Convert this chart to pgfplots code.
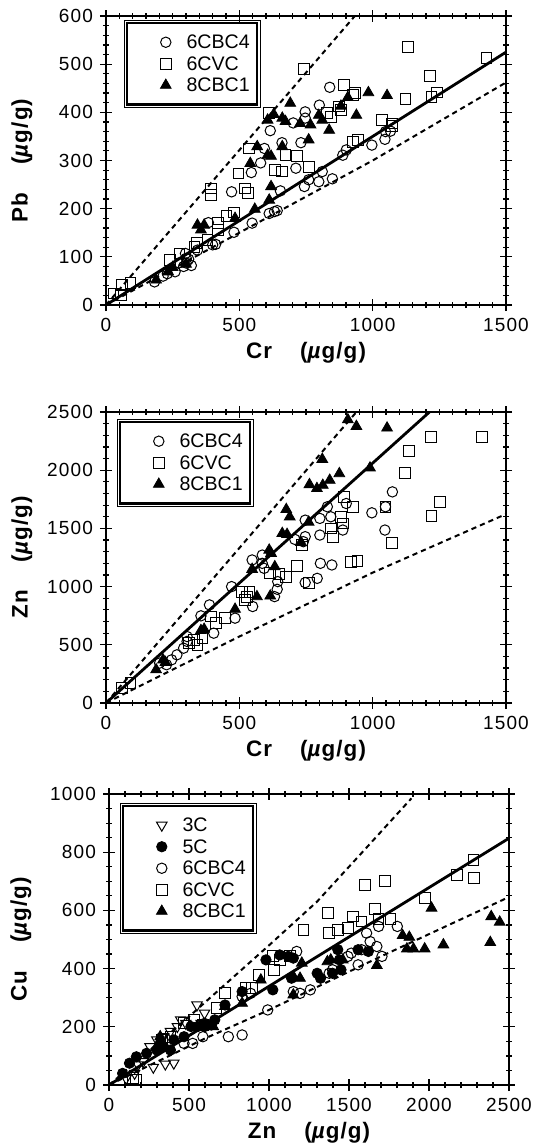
\documentclass[border=0pt]{standalone}
\usepackage{fontspec}
\setmainfont{Liberation Sans}
\usepackage{pgfplots}
\pgfplotsset{compat=1.18}
\pgfplotsset{
  panel/.style={
    scale only axis,
    axis line style={line width=0.6pt},
    tick style={line width=0.6pt, black},
    tick align=center,
    major tick length=6pt,
    minor tick length=3pt,
    /pgf/number format/assume math mode=true,
    /pgf/number format/1000 sep={},
    tick label style={font=\fontsize{9.5}{10}\selectfont\addfontfeature{LetterSpace=6}},
    label style={font=\fontsize{11.2}{12}\selectfont\bfseries\addfontfeature{LetterSpace=5}},
    legend style={draw=none, fill=white, anchor=north west,
      font=\fontsize{9.8}{11}\selectfont,
      inner xsep=2.3pt, inner ysep=4.5pt, row sep=0.85pt,
      nodes={inner sep=1.2pt, text height=7pt, text depth=0.5pt},
      /tikz/every even column/.append style={column sep=4.8pt}},
    legend image code/.code={\path (-16.7pt,0pt) (9pt,0pt); \draw[##1] plot coordinates {(0pt,0pt)};},
    legend cell align=left,
    oc/.style={only marks, mark=o, mark size=2.6pt, mark options={line width=0.5pt, black}},
    sq/.style={only marks, mark=square, mark size=2.7pt, mark options={line width=0.5pt, black}},
    tr/.style={only marks, mark=triangle*, mark size=3.1pt, mark options={black, fill=black}},
    itr/.style={only marks, mark=triangle, mark size=3.0pt, mark options={rotate=180, line width=0.5pt, black}},
    fc/.style={only marks, mark=*, mark size=2.6pt, mark options={black, fill=black}},
    fit/.style={no marks, black, line width=1.4pt},
    band/.style={no marks, black, line width=1.0pt, dash pattern=on 2.6pt off 2.0pt},
  }
}
\newcommand{\ug}{(\textit{µ}g/g)}
\begin{document}
\begin{tikzpicture}
\useasboundingbox (0pt,0pt) rectangle (271.5pt,-574pt);
% ---------------- Panel 1 ----------------
\begin{axis}[panel, at={(53pt,-152.5pt)}, anchor=south west,
  width=200pt, height=144.5pt,
  xmin=0, xmax=1500, ymin=0, ymax=600,
  xtick={0,500,1000,1500}, ytick={0,100,...,600},
  minor x tick num=9, minor y tick num=4,
  xlabel={Cr\hspace{14pt}\ug}, ylabel={Pb\hspace{14pt}\ug},
  xlabel style={at={(axis description cs:0.5,0)}, anchor=center, yshift=-24pt},
  ylabel style={at={(axis description cs:-0.21,0.5)}, anchor=center},
  legend style={name=legA, at={(axis description cs:0.0525,0.976)}},
]
\addplot[oc] coordinates {(839,452) (800,415) (747,401) (747,388) (702,378) (616,362) (660,337) (731,337) (594,325) (580,295) (545,275) (712,284) (471,235) (654,237) (744,246) (760,260) (798,256) (811,277) (849,262) (888,311) (901,322) (997,332) (1046,344) (1067,361) (1048,360) (612,190) (632,194) (642,196) (548,170) (480,151) (400,125) (411,126) (384,171) (343,114) (298,107) (301,97) (301,87) (291,80) (272,87) (259,69) (214,60) (182,48) (310,95) (320,82) (230,65)};
\addlegendentry{6CBC4}
\addplot[sq] coordinates {(744,490) (1134,535) (1427,512) (1215,475) (1123,427) (1221,432) (1240,441) (894,457) (926,436) (933,440) (1035,384) (1074,377) (1074,372) (612,399) (830,398) (843,391) (875,412) (881,405) (535,325) (635,280) (660,277) (673,311) (715,310) (762,287) (497,273) (520,242) (532,233) (394,242) (394,228) (926,339) (946,343) (452,185) (481,192) (420,171) (420,156) (381,135) (340,128) (332,121) (240,93) (276,107) (60,42) (92,45) (56,21) (28,24)};
\addlegendentry{6CVC}
\addplot[tr] coordinates {(691,419) (984,441) (1054,435) (907,431) (881,413) (606,384) (629,396) (661,388) (673,381) (728,377) (767,374) (798,394) (811,384) (837,363) (939,394) (760,343) (661,329) (567,329) (541,294) (606,311) (619,309) (619,246) (612,218) (558,199) (484,180) (343,166) (368,166) (356,156) (233,69) (188,52) (250,78) (300,85)};
\addlegendentry{8CBC1}
\addplot[fit] coordinates {(0,0) (1500,525)};
\addplot[band] coordinates {(0,0) (933,600)};
\addplot[band] coordinates {(0,0) (500,150) (1000,300) (1500,462)};
\end{axis}
\draw[line width=1.1pt] (legA.north west) rectangle (legA.south east);
\draw[line width=0.4pt] ([shift={(-1.5pt,1.5pt)}]legA.north west) rectangle ([shift={(1.5pt,-1.5pt)}]legA.south east);
% ---------------- Panel 2 ----------------
\begin{axis}[panel, at={(53pt,-351.5pt)}, anchor=south west,
  width=200pt, height=145.5pt,
  xmin=0, xmax=1500, ymin=0, ymax=2500,
  xtick={0,500,1000,1500}, ytick={0,500,...,2500},
  minor x tick num=9, minor y tick num=4,
  xlabel={Cr\hspace{14pt}\ug}, ylabel={Zn\hspace{14pt}\ug},
  xlabel style={at={(axis description cs:0.5,0)}, anchor=center, yshift=-24pt},
  ylabel style={at={(axis description cs:-0.21,0.5)}, anchor=center},
  legend style={name=legB, at={(axis description cs:0.035,0.966)}},
]
\addplot[oc] coordinates {(1074,1814) (1048,1686) (997,1634) (1046,1486) (901,1714) (830,1686) (843,1600) (802,1586) (747,1571) (747,1429) (740,1386) (708,1406) (802,1443) (888,1486) (804,1200) (847,1186) (747,1034) (792,1071) (644,1043) (632,914) (642,977) (586,1200) (593,1157) (548,1229) (586,1271) (471,1000) (484,729) (550,829) (388,843) (356,749) (404,600) (304,571) (304,529) (291,471) (266,414) (246,371) (227,329) (201,343)};
\addlegendentry{6CBC4}
\addplot[sq] coordinates {(1219,2286) (1410,2286) (1135,2163) (1122,1977) (1253,1726) (1221,1606) (1074,1377) (894,1771) (926,1686) (1048,1686) (881,1600) (843,1500) (850,1429) (888,1543) (920,1214) (943,1223) (734,1357) (715,1177) (676,1086) (648,1109) (615,1114) (760,1034) (509,957) (538,957) (522,886) (529,914) (413,686) (394,743) (445,729) (362,557) (343,500) (330,543) (311,514) (92,171) (60,129)};
\addlegendentry{6CVC}
\addplot[tr] coordinates {(907,2434) (939,2377) (1054,2363) (811,2094) (875,1971) (990,2020) (763,1877) (791,1843) (813,1871) (839,1914) (676,1663) (689,1600) (760,1554) (661,1457) (679,1449) (731,1380) (612,1314) (619,1286) (548,1149) (633,1171) (566,914) (616,920) (484,806) (356,623) (368,634) (214,371) (188,286) (223,349)};
\addlegendentry{8CBC1}
\addplot[fit] coordinates {(0,0) (1213,2500)};
\addplot[band] coordinates {(0,0) (939,2500)};
\addplot[band] coordinates {(0,0) (200,230) (500,571) (1000,1120) (1500,1623)};
\end{axis}
\draw[line width=1.1pt] (legB.north west) rectangle (legB.south east);
\draw[line width=0.4pt] ([shift={(-1.5pt,1.5pt)}]legB.north west) rectangle ([shift={(1.5pt,-1.5pt)}]legB.south east);
% ---------------- Panel 3 ----------------
\begin{axis}[panel, at={(54.5pt,-542.5pt)}, anchor=south west,
  width=200pt, height=145.5pt,
  xmin=0, xmax=2500, ymin=0, ymax=1000,
  xtick={0,500,...,2500}, ytick={0,200,...,1000},
  minor x tick num=4, minor y tick num=3,
  xlabel={Zn\hspace{14pt}\ug}, ylabel={Cu\hspace{14pt}\ug},
  xlabel style={at={(axis description cs:0.5,0)}, anchor=center, yshift=-24pt},
  ylabel style={at={(axis description cs:-0.22,0.5)}, anchor=center},
  legend style={name=legC, at={(axis description cs:0.035,0.959)}},
]
\addplot[itr] coordinates {(550,275) (405,75) (352,72) (277,61) (213,80) (160,40) (107,23) (341,166) (384,184) (427,201) (480,212) (597,247) (576,212) (448,224) (299,155) (256,132) (181,69)};
\addlegendentry{3C}
\addplot[fc] coordinates {(981,430) (1067,447) (1120,442) (1152,436) (1024,327) (832,321) (725,275) (597,212) (512,201) (469,166) (405,155) (341,132) (299,120) (235,109) (171,97) (128,75) (85,40) (1141,367) (1301,384) (1322,367) (1440,430) (1430,465) (1450,396) (1557,465) (1621,459) (1397,384) (640,206) (661,224) (555,201) (384,120) (320,143)};
\addlegendentry{5C}
\addplot[oc] coordinates {(1802,545) (1685,545) (1610,522) (1632,493) (1674,476) (1706,442) (1557,413) (1493,442) (1397,396) (1376,384) (1258,327) (1194,315) (1152,321) (1173,459) (992,258) (832,172) (746,166) (597,201) (587,166) (523,143) (469,143) (832,304) (885,315) (1514,453) (1578,465)};
\addlegendentry{6CBC4}
\addplot[sq] coordinates {(2278,772) (2282,711) (2175,723) (1973,642) (1724,702) (1600,688) (1369,591) (1525,579) (1664,604) (1760,570) (1685,570) (1578,562) (1493,539) (1429,533) (1376,522) (1216,533) (1024,442) (1067,430) (1130,442) (1032,396) (939,379) (853,333) (896,333) (725,315) (672,264) (587,206) (533,224) (469,212) (384,166) (331,155) (149,23) (171,17)};
\addlegendentry{6CVC}
\addplot[tr] coordinates {(2016,608) (2389,579) (2442,560) (2383,490) (2090,482) (1973,468) (1903,468) (1862,468) (1835,514) (1877,508) (1674,411) (1461,430) (1386,430) (1365,424) (1205,419) (1152,373) (1194,367) (1152,310) (949,361) (832,281) (725,270) (651,201) (597,201) (320,166)};
\addlegendentry{8CBC1}
\addplot[fit] coordinates {(0,0) (2500,848)};
\addplot[band] coordinates {(0,0) (500,235) (1000,480) (1300,630) (1600,810) (1890,985)};
\addplot[band] coordinates {(0,0) (600,160) (1000,258) (1700,442) (2500,646)};
\end{axis}
\draw[line width=1.1pt] (legC.north west) rectangle (legC.south east);
\draw[line width=0.4pt] ([shift={(-1.5pt,1.5pt)}]legC.north west) rectangle ([shift={(1.5pt,-1.5pt)}]legC.south east);
\end{tikzpicture}
\end{document}
